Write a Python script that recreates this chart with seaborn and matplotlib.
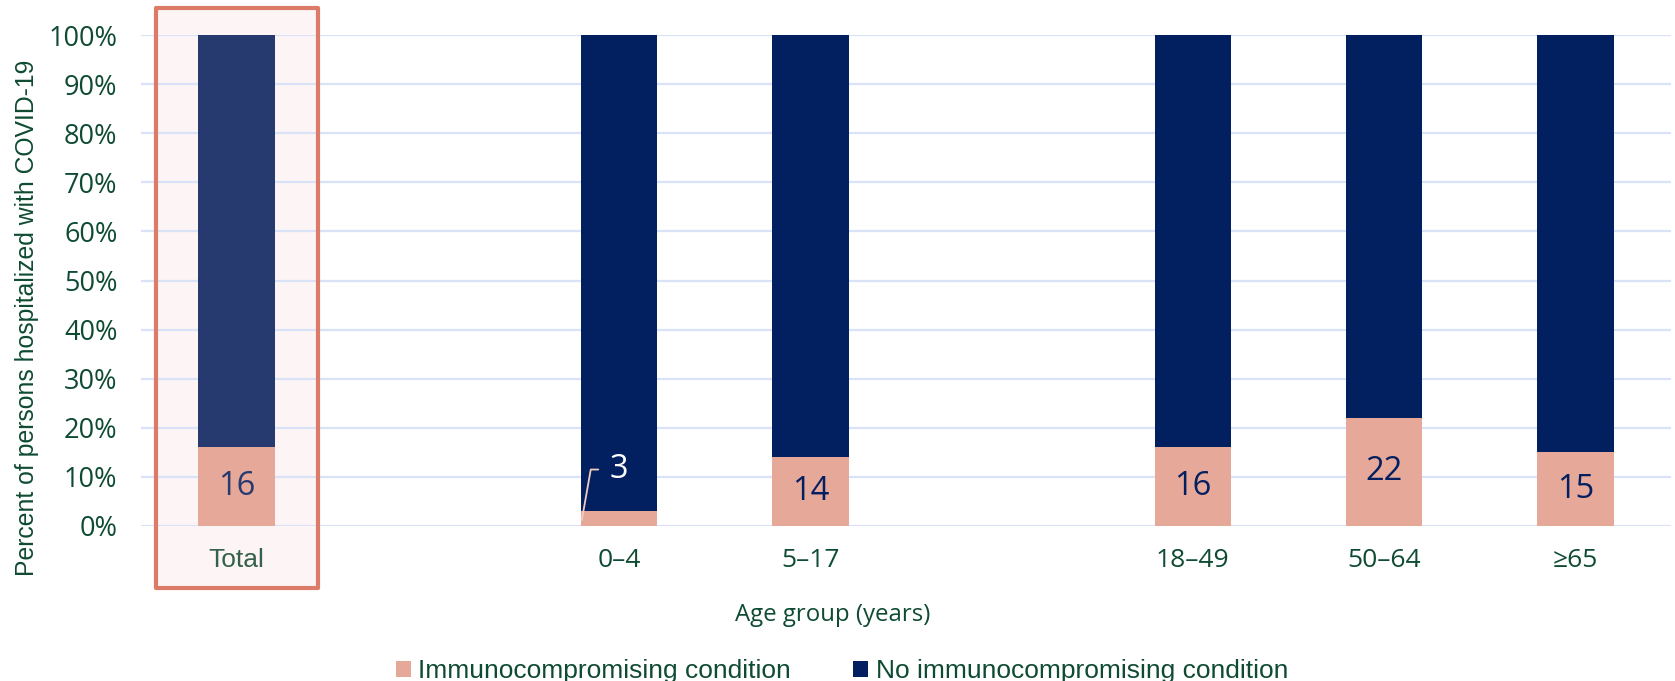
import matplotlib
matplotlib.use("Agg")
import matplotlib.pyplot as plt
import matplotlib.transforms as mtransforms
from matplotlib.patches import Patch, Rectangle
import pandas as pd
import seaborn as sns

# Share of hospitalized persons with / without an immunocompromising condition
groups = ["Total", "0–4", "5–17", "18–49", "50–64", "≥65"]
slots = ["Total", " ", "0–4", "5–17", "  ", "18–49", "50–64", "≥65"]
immuno = [16, 3, 14, 16, 22, 15]
no_immuno = [84, 97, 86, 84, 78, 85]
y_ticks = [0, 10, 20, 30, 40, 50, 60, 70, 80, 90, 100]
legend_labels = ["Immunocompromising condition", "No immunocompromising condition"]
x_title = "Age group (years)"
y_title = "Percent of persons hospitalized with COVID-19"

PINK = "#E6A899"
NAVY = "#022060"
NAVY_TOTAL = "#263A70"
GRID = "#D9E2F6"
TEXT_GREEN = "#0F4B32"
BOX_EDGE = "#DC7B68"
BOX_FILL = "#FDF5F5"

sns.set_theme(style="white")
plt.rcParams["font.family"] = ["Liberation Sans", "DejaVu Sans"]

df = pd.DataFrame({"group": groups, "immuno": immuno, "no_immuno": no_immuno})
df["stack_top"] = df["immuno"] + df["no_immuno"]

fig = plt.figure(figsize=(16.75, 6.81), dpi=100)
ax = fig.add_axes([141 / 1675, 1 - 526 / 681, 1530 / 1675, 491 / 681])

# stacked bars: full stack in navy, lower segment in pink
navy_palette = {g: (NAVY_TOTAL if g == "Total" else NAVY) for g in groups}
sns.barplot(data=df, x="group", y="stack_top", order=slots, hue="group",
            palette=navy_palette, width=0.4, saturation=1, errorbar=None,
            legend=False, ax=ax, zorder=3, linewidth=0)
sns.barplot(data=df, x="group", y="immuno", order=slots, color=PINK,
            width=0.4, saturation=1, errorbar=None, ax=ax, zorder=4,
            linewidth=0)

ax.set_xlim(-0.5, len(slots) - 0.5)
ax.set_ylim(0, 100)
ax.set_yticks(y_ticks)
ax.set_yticklabels([f"{t}%" for t in y_ticks], fontfamily="Open Sans",
                   fontsize=19.5, color=TEXT_GREEN)
ax.yaxis.grid(True, color=GRID, linewidth=1.6, zorder=1)
ax.xaxis.grid(False)
ax.set_axisbelow(True)
for s in ax.spines.values():
    s.set_visible(False)
ax.tick_params(axis="y", length=0, pad=17)
ax.tick_params(axis="x", length=0, pad=15.5)

for lab in ax.get_xticklabels():
    if lab.get_text() == "Total":
        lab.set_fontfamily("Liberation Sans")
        lab.set_color("#34604C")
    else:
        lab.set_fontfamily("Open Sans")
        lab.set_color(TEXT_GREEN)
    lab.set_fontsize(19)

ax.set_xlabel("")
ax.set_ylabel(y_title, fontsize=17.8, color=TEXT_GREEN, va="center")
ax.yaxis.set_label_coords(-0.0745, 0.424)
fig.text(833 / 1675, 1 - 615 / 681, x_title, ha="center", va="center",
         fontfamily="Open Sans", fontsize=17.3, color=TEXT_GREEN)

# highlight frame around the overall bar
tr = mtransforms.blended_transform_factory(ax.transData, ax.transAxes)
x0 = slots.index("Total") - 0.423
frame_fill = Rectangle((x0, -0.126), 0.846, 1.181, transform=tr,
                       facecolor=BOX_FILL, edgecolor="none", clip_on=False,
                       zorder=0.2)
frame_edge = Rectangle((x0, -0.126), 0.846, 1.181, transform=tr,
                       facecolor="none", edgecolor=BOX_EDGE, linewidth=3,
                       joinstyle="round", clip_on=False, zorder=2)
ax.add_patch(frame_fill)
ax.add_patch(frame_edge)

# value labels on the pink segments
for g, v in zip(groups, immuno):
    pos = slots.index(g)
    if v < 5:
        ax.annotate(str(v), xy=(pos - 0.195, 1.2), xytext=(pos, 11.5),
                    ha="center", va="center", fontfamily="Open Sans",
                    fontsize=23.5, color="white", zorder=6,
                    arrowprops=dict(arrowstyle="-", color="#F2CBC0", lw=1.3,
                                    connectionstyle="angle,angleA=0,angleB=80,rad=0",
                                    relpos=(0, 0.5), shrinkA=6, shrinkB=0))
    else:
        ax.text(pos, v / 2, str(v), ha="center", va="center",
                fontfamily="Open Sans", fontsize=23.5,
                color=(NAVY_TOTAL if g == "Total" else NAVY), zorder=6)

handles = [Patch(facecolor=PINK, edgecolor="none"),
           Patch(facecolor=NAVY, edgecolor="none")]
fig.legend(handles, legend_labels, loc="center", ncol=2,
           bbox_to_anchor=(842 / 1675, 1 - 671 / 681), frameon=False,
           fontsize=19, handlelength=0.55, handleheight=0.55,
           handletextpad=0.3, columnspacing=2.35, labelcolor=TEXT_GREEN)

fig.savefig("out.png", dpi=100, facecolor="white")
